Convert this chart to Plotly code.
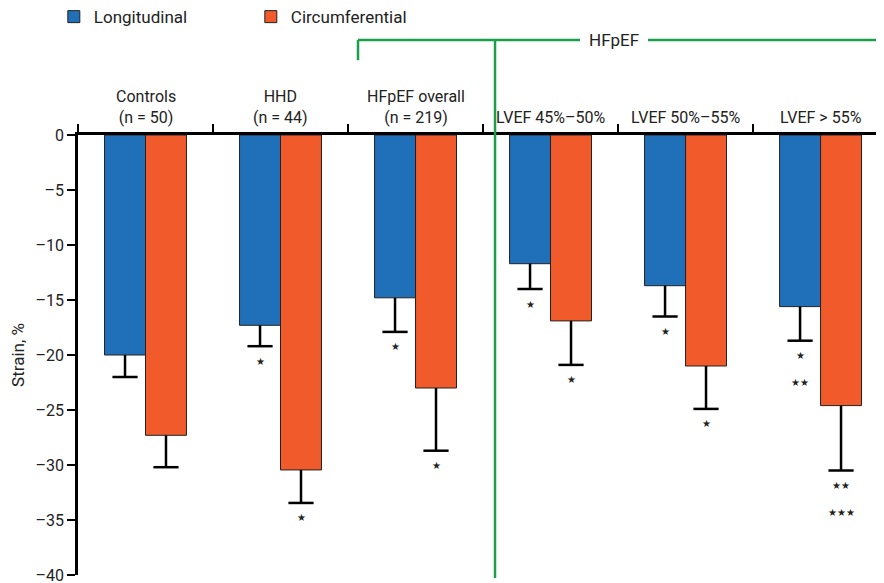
import plotly.graph_objects as go

categories = ["Controls", "HHD", "HFpEF overall", "LVEF 45%–50%", "LVEF 50%–55%", "LVEF > 55%"]
sample_sizes = ["(n = 50)", "(n = 44)", "(n = 219)", "", "", ""]
long_mean = [-20.0, -17.3, -14.8, -11.7, -13.7, -15.6]
long_sd = [2.0, 1.9, 3.1, 2.3, 2.8, 3.1]
circ_mean = [-27.3, -30.45, -23.0, -16.9, -21.0, -24.6]
circ_sd = [2.9, 3.0, 5.7, 4.0, 3.9, 5.9]
long_sig = [[], ["★"], ["★"], ["★"], ["★"], ["★", "★★"]]
circ_sig = [[], ["★"], ["★"], ["★"], ["★"], ["★★", "★★★"]]
y_tick_vals = [0, -5, -10, -15, -20, -25, -30, -35, -40]
y_tick_text = ["0", "–5", "–10", "–15", "–20", "–25", "–30", "–35", "–40"]

BLUE = "#1f70b9"
ORANGE = "#f15a2b"
GREEN = "#1aa04b"
FONT = "Roboto"

fig = go.Figure()
series = [("Longitudinal", long_mean, long_sd, BLUE, "long"),
          ("Circumferential", circ_mean, circ_sd, ORANGE, "circ")]
for name, mean, sd, color, grp in series:
    fig.add_trace(go.Bar(
        name=name, x=categories, y=mean, offsetgroup=grp,
        marker=dict(color=color, line=dict(color="#222", width=1)),
        error_y=dict(type="data", symmetric=False, array=[0] * 6, arrayminus=sd,
                     color="black", thickness=2.5, width=0),
    ))
for name, mean, sd, color, grp in series:
    fig.add_trace(go.Scatter(
        x=categories, y=[m - s for m, s in zip(mean, sd)], offsetgroup=grp,
        mode="markers", showlegend=False, hoverinfo="skip",
        marker=dict(symbol="line-ew", size=18, line=dict(color="black", width=2.5)),
    ))

annotations = []
for i, cat in enumerate(categories):
    label = cat if not sample_sizes[i] else cat + "<br>" + sample_sizes[i]
    annotations.append(dict(x=cat, y=0, xref="x", yref="y", text=label, showarrow=False,
                            yanchor="bottom", yshift=6, font=dict(family=FONT, size=16, color="#222")))
    for j, s in enumerate(long_sig[i]):
        annotations.append(dict(x=cat, y=long_mean[i] - long_sd[i], xref="x", yref="y", text=s,
                                showarrow=False, xshift=-20.5, yshift=-15 - 27 * j, yanchor="middle",
                                font=dict(family="DejaVu Sans", size=10, color="#222")))
    for j, s in enumerate(circ_sig[i]):
        annotations.append(dict(x=cat, y=circ_mean[i] - circ_sd[i], xref="x", yref="y", text=s,
                                showarrow=False, xshift=20.5, yshift=-15 - 27 * j, yanchor="middle",
                                font=dict(family="DejaVu Sans", size=10, color="#222")))

annotations.append(dict(x=0.665, y=1.216, xref="paper", yref="paper", text="HFpEF", showarrow=False,
                        xanchor="center", yanchor="middle", font=dict(family=FONT, size=17, color="#222")))

line = dict(color=GREEN, width=2.5)
shapes = [
    dict(type="line", xref="paper", yref="paper", x0=0.3474, x1=0.3474, y0=1.170, y1=1.216, line=line),
    dict(type="line", xref="paper", yref="paper", x0=0.3474, x1=0.6228, y0=1.216, y1=1.216, line=line),
    dict(type="line", xref="paper", yref="paper", x0=0.7072, x1=1.0, y0=1.216, y1=1.216, line=line),
    dict(type="line", xref="paper", yref="paper", x0=0.5174, x1=0.5174, y0=1.216, y1=-0.007, line=line),
]

fig.update_layout(
    width=884, height=583,
    margin=dict(l=70, r=8, t=127, b=16, autoexpand=False),
    paper_bgcolor="white", plot_bgcolor="white",
    barmode="group", bargap=0.393, bargroupgap=0,
    scattermode="group", scattergap=0.393,
    font=dict(family=FONT, size=15, color="#222"),
    showlegend=True,
    legend=dict(orientation="h", x=-0.03, xanchor="left", y=1.268, yanchor="middle",
                entrywidth=152, entrywidthmode="pixels",
                font=dict(family=FONT, size=17, color="#222")),
    annotations=annotations, shapes=shapes,
)
fig.update_xaxes(type="category", side="top", tickson="boundaries", ticks="outside", ticklen=8,
                 tickwidth=2, tickcolor="black", showticklabels=False, showline=True,
                 linecolor="black", linewidth=2.5, range=[-0.5, 5.47], showgrid=False, zeroline=False)
fig.update_yaxes(range=[-40, 0], tickvals=y_tick_vals, ticktext=y_tick_text,
                 ticks="outside", ticklen=8, tickwidth=2, tickcolor="black",
                 showline=True, linecolor="black", linewidth=2.5, showgrid=False, zeroline=False,
                 title=dict(text="Strain, %", font=dict(family=FONT, size=17, color="#222"), standoff=8),
                 tickfont=dict(family=FONT, size=16, color="#222"))

fig.write_html("out.html")
